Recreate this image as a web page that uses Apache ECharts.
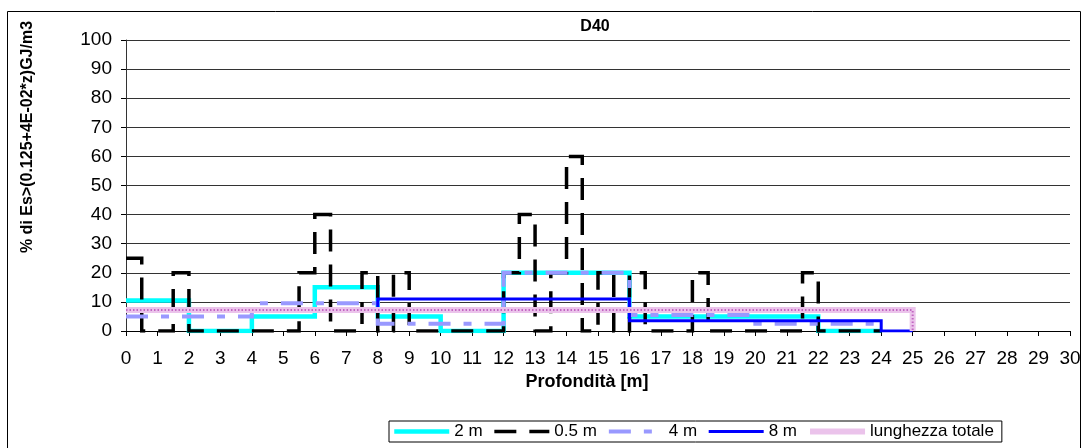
<!DOCTYPE html>
<html>
<head>
<meta charset="utf-8">
<script src="https://cdn.jsdelivr.net/npm/echarts@6/dist/echarts.min.js"></script>
<style>
  html, body { margin: 0; padding: 0; background: #fff; }
  #chart { width: 1085px; height: 448px; }
</style>
</head>
<body>
<div id="chart"></div>
<script>
// each series is a step curve: value of a segment starting at the given depth
const depth2m = [0, 2, 4, 6, 8, 10, 12, 14, 16, 18, 20, 22, 24]
const val2m = [10.5, 0, 5, 15, 5, 0, 20, 20, 5, 5, 5, 0]

const seg05 = 0.5
const val05 = [
  25, 0, 0, 20, 0, 0, 0, 0, 0, 0, 0, 20,
  40, 0, 0, 20, 0, 20, 0, 0, 0, 0, 0, 0,
  20, 40, 0, 20, 60, 0, 20, 0, 20, 0, 0, 0,
  20, 0, 0, 0, 0, 0, 0, 20, 0, 0, 0, 0
]
const depth05 = val05.map((_, i) => i * seg05).concat(val05.length * seg05)

const depth4m = [0, 4, 8, 12, 16, 20, 24]
const val4m = [5, 9.5, 2.5, 20, 5.5, 2.5]

const depth8m = [0, 8, 16, 24, 25]
const val8m = [7.2, 11, 3.5, 0]

const depthTot = [0, 25]
const valTot = [7.2]
const endTot = 0

const legendNames = ['2 m', '0.5 m', '4 m', '8 m', 'lunghezza totale']

const toSteps = (edges, vals, endVal) => {
  const pts = vals.map((v, i) => [edges[i], v])
  pts.push([edges[edges.length - 1], endVal === undefined ? vals[vals.length - 1] : endVal])
  return pts
}

const font = 'Liberation Sans, Arial, sans-serif'

const stepLine = (name, data, color, width, type) => ({
  name,
  type: 'line',
  step: 'end',
  symbol: 'none',
  data,
  itemStyle: { color },
  lineStyle: { color, width, type: type || 'solid', cap: 'butt', join: 'miter' },
  emphasis: { disabled: true },
  animation: false
})

const chart = echarts.init(document.getElementById('chart'))

chart.setOption({
  title: {
    text: 'D40',
    left: 590,
    top: 14,
    textAlign: 'center',
    textStyle: { fontFamily: font, fontSize: 16, fontWeight: 'bold', color: '#000' }
  },
  legend: {
    data: legendNames,
    left: 389,
    top: 421,
    padding: [2, 8, 2, 3],
    itemWidth: 55,
    itemHeight: 10,
    itemGap: 10,
    borderColor: '#000',
    borderWidth: 1,
    itemStyle: { opacity: 0 },
    lineStyle: { width: 'inherit' },
    textStyle: { fontFamily: font, fontSize: 17, color: '#000' }
  },
  grid: { left: 126, right: 15, top: 40, bottom: 117 },
  xAxis: {
    type: 'value',
    min: 0,
    max: 30,
    interval: 1,
    name: 'Profondità [m]',
    nameLocation: 'middle',
    nameGap: 34,
    nameTextStyle: { fontFamily: font, fontSize: 18, fontWeight: 'bold', color: '#000', padding: [0, 22, 0, 0] },
    axisLine: { lineStyle: { color: '#000', width: 1 } },
    axisTick: { show: true, length: 5, lineStyle: { color: '#000' } },
    axisLabel: { fontFamily: font, fontSize: 19, color: '#000', margin: 18 },
    splitLine: { show: false }
  },
  yAxis: {
    type: 'value',
    min: 0,
    max: 100,
    interval: 10,
    axisLine: { show: true, lineStyle: { color: '#333', width: 1 } },
    axisTick: { show: true, length: 5, lineStyle: { color: '#000' } },
    axisLabel: { fontFamily: font, fontSize: 19, color: '#000', margin: 14 },
    splitLine: { show: true, lineStyle: { color: '#333', width: 1 } }
  },
  graphic: [
    {
      type: 'rect',
      silent: true,
      shape: { x: 7.5, y: 11.5, width: 1073, height: 440 },
      style: { fill: 'none', stroke: '#000', lineWidth: 1 }
    },
    {
      type: 'text',
      silent: true,
      x: 28,
      y: 137,
      rotation: Math.PI / 2,
      style: {
        text: '% di Es>(0.125+4E-02*z)GJ/m3',
        fontFamily: font,
        fontSize: 16,
        fontWeight: 'bold',
        fill: '#000',
        align: 'center',
        verticalAlign: 'middle'
      }
    }
  ],
  series: [
    stepLine('2 m', toSteps(depth2m, val2m), '#00FFFF', 4.5),
    stepLine('0.5 m', toSteps(depth05, val05), '#000000', 3.5, [22, 13]),
    stepLine('4 m', toSteps(depth4m, val4m), '#9999FF', 4, [22, 13, 8, 13]),
    stepLine('8 m', toSteps(depth8m, val8m), '#0000FF', 3),
    stepLine('lunghezza totale', toSteps(depthTot, valTot, endTot), '#EBC3EB', 6),
    Object.assign(stepLine('lunghezza totale (trama)', toSteps(depthTot, valTot, endTot), '#C266C2', 2, [1.5, 2]), { silent: true })
  ]
})
</script>
</body>
</html>
